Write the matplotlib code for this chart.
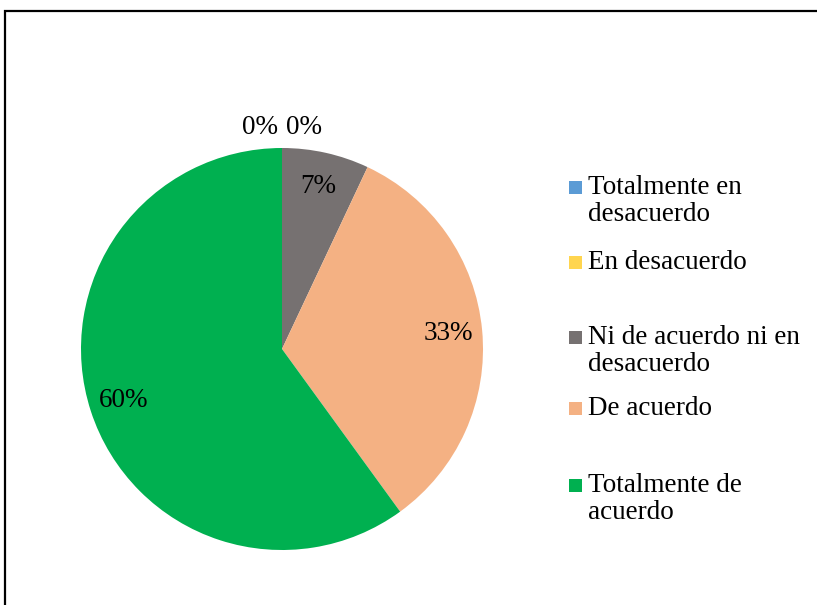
import matplotlib
matplotlib.use("Agg")
import matplotlib.pyplot as plt
from matplotlib.patches import Rectangle
import numpy as np

categories = ["Totalmente en\ndesacuerdo", "En desacuerdo", "Ni de acuerdo ni en\ndesacuerdo",
              "De acuerdo", "Totalmente de\nacuerdo"]
values = [0, 0, 7, 33, 60]
colors = ["#5B9BD5", "#FFD54F", "#767171", "#F4B183", "#00B050"]
legend_y_px = [187, 262, 337, 408, 485]  # first-line centres of legend entries

W, H = 817, 605
plt.rcParams['font.family'] = ['Liberation Serif', 'DejaVu Serif']
fig = plt.figure(figsize=(W / 100, H / 100), dpi=100)

cx, cy, r = 282, 349, 201
ax = fig.add_axes([(cx - r) / W, (H - cy - r) / H, 2 * r / W, 2 * r / H])
wedges, texts, autotexts = ax.pie(values, colors=colors, startangle=90, counterclock=False,
                                  autopct='%1.0f%%', pctdistance=0.83,
                                  textprops=dict(fontsize=19.5, color='black'))
ax.set_xlim(-1, 1)
ax.set_ylim(-1, 1)
ax.set_aspect('equal')
ax.axis('off')

# move the zero-value labels outside, above the top of the pie
zero_idx = [i for i, v in enumerate(values) if v == 0]
offsets = [-0.11, 0.11]
for k, i in enumerate(zero_idx):
    autotexts[i].set_position((offsets[k % 2], 1.1))
    autotexts[i].set_ha('center')
    autotexts[i].set_va('center')

# legend, drawn manually
for lab, col, ypx in zip(categories, colors, legend_y_px):
    fig.add_artist(Rectangle((569 / W, 1 - (ypx + 7) / H), 13 / W, 13 / H,
                             transform=fig.transFigure, facecolor=col, edgecolor='none'))
    fig.text(588 / W, 1 - (ypx - 12) / H, lab, fontsize=19.5, va='top', ha='left',
             linespacing=1.1)

# outer frame
fig.add_artist(Rectangle((5 / W, -0.1), 1.2, 1.1 - 11 / H, transform=fig.transFigure,
                         facecolor='none', edgecolor='black', linewidth=1.6))

fig.savefig("out.png", dpi=100)
